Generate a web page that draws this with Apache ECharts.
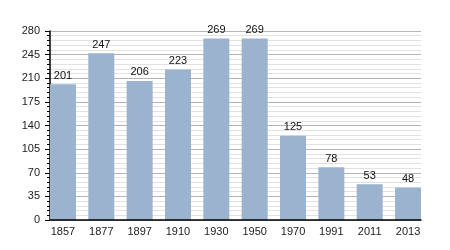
<!DOCTYPE html>
<html><head><meta charset="utf-8">
<script src="https://cdn.jsdelivr.net/npm/echarts@6/dist/echarts.min.js"></script>
<style>html,body{margin:0;padding:0;background:#fff}#c{width:450px;height:250px}</style>
</head><body><div id="c"></div>
<script>
const years = ['1857','1877','1897','1910','1930','1950','1970','1991','2011','2013'];
const population = [201,247,206,223,269,269,125,78,53,48];
const yMin = 0, yMax = 280, yStep = 35;

const chart = echarts.init(document.getElementById('c'), null, {renderer:'canvas'});
const font = 'Liberation Sans, Arial, sans-serif';
chart.setOption({
  animation:false,
  grid:[
    {left:50,right:29,top:31,bottom:30},
    {left:43.8,right:22.8,top:31,bottom:30}
  ],
  xAxis:[
    {gridIndex:0,type:'value',min:0,max:1,z:20,axisLine:{show:true,onZero:false,lineStyle:{color:'#000',width:1.5}},axisTick:{show:false},axisLabel:{show:false},splitLine:{show:false}},
    {gridIndex:1,type:'category',data:years,axisLine:{show:false},axisTick:{show:false},
     axisLabel:{color:'#222',fontSize:11,fontFamily:font,margin:6}}
  ],
  yAxis:[
    {gridIndex:0,type:'value',min:yMin,max:yMax,interval:yStep,
     axisLine:{show:true,lineStyle:{color:'#000',width:1.5}},
     axisTick:{show:true,length:5,lineStyle:{color:'#000'}},
     minorTick:{show:true,splitNumber:5,length:3,lineStyle:{color:'#000'}},
     axisLabel:{color:'#222',fontSize:11,fontFamily:font,margin:10},
     splitLine:{show:true,lineStyle:{color:'#b4b4b4',width:1}},
     minorSplitLine:{show:true,lineStyle:{color:'#e2e2e2',width:1}}},
    {gridIndex:1,type:'value',min:yMin,max:yMax,interval:yStep,show:false}
  ],
  series:[{
    type:'bar',xAxisIndex:1,yAxisIndex:1,data:population,barWidth:26,z:2,
    itemStyle:{color:'#9bb3cf'},
    label:{show:true,position:'top',distance:3,color:'#111',fontSize:11,fontFamily:font}
  }]
});
</script></body></html>
